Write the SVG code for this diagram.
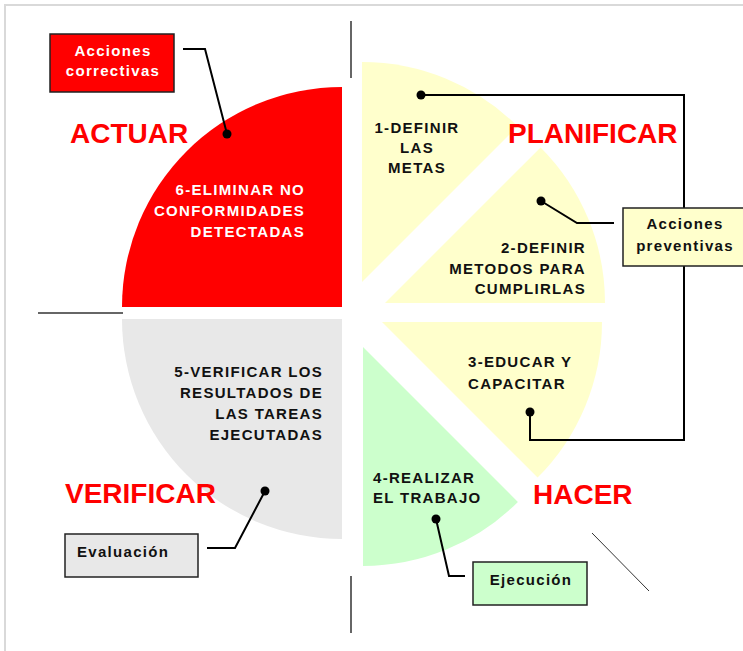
<svg xmlns="http://www.w3.org/2000/svg" width="743" height="651" viewBox="0 0 743 651">
<style>
.t{font-family:"Liberation Sans",Arial,sans-serif;font-weight:bold;font-size:15px;letter-spacing:1.3px;fill:#111}
.w{fill:#fff}
.big{font-family:"Liberation Sans",Arial,sans-serif;font-weight:bold;font-size:28px;fill:#ff0000}
.box{stroke:#222;stroke-width:1.5}
.con{fill:none;stroke:#000;stroke-width:2}
.dot{fill:#000}
.guide{stroke:#333;stroke-width:1.5}
</style>
<rect x="0" y="0" width="743" height="651" fill="#fff"/>
<rect x="5" y="5" width="760" height="680" fill="none" stroke="#d9d9d9" stroke-width="2"/>
<g id="guides">
<line class="guide" x1="351" y1="21" x2="351" y2="78"/>
<line class="guide" x1="351" y1="576" x2="351" y2="633"/>
<line class="guide" x1="38" y1="313" x2="123" y2="313"/>
<line stroke="#333" stroke-width="1" x1="592" y1="533" x2="649" y2="591"/>
</g>
<g id="actuar">
<path d="M342,307 L342,87 A220,220 0 0 0 122,307 Z" fill="#ff0000"/>
<text class="big" x="70" y="143">ACTUAR</text>
<text class="t w" text-anchor="end"><tspan x="305" y="195">6-ELIMINAR NO</tspan><tspan x="305" y="216">CONFORMIDADES</tspan><tspan x="305" y="237">DETECTADAS</tspan></text>
</g>
<g id="verificar">
<path d="M342,319 L122,319 A220,220 0 0 0 342,539 Z" fill="#e8e8e8"/>
<text class="big" x="65" y="503">VERIFICAR</text>
<text class="t" text-anchor="end"><tspan x="323" y="377">5-VERIFICAR LOS</tspan><tspan x="323" y="398">RESULTADOS DE</tspan><tspan x="323" y="419">LAS TAREAS</tspan><tspan x="323" y="440">EJECUTADAS</tspan></text>
</g>
<g id="paso1">
<path d="M362,282 L362,62 A220,220 0 0 1 517.6,126.4 Z" fill="#ffffcc"/>
<text class="t" text-anchor="middle"><tspan x="417" y="133">1-DEFINIR</tspan><tspan x="417" y="153">LAS</tspan><tspan x="417" y="173">METAS</tspan></text>
</g>
<g id="paso2">
<path d="M385,303 L605,303 A220,220 0 0 0 540.6,147.4 Z" fill="#ffffcc"/>
<text class="t" text-anchor="end"><tspan x="586" y="253">2-DEFINIR</tspan><tspan x="586" y="274">METODOS PARA</tspan><tspan x="586" y="294">CUMPLIRLAS</tspan></text>
</g>
<g id="paso3">
<path d="M382,322 L602,322 A220,220 0 0 1 537.6,477.6 Z" fill="#ffffcc"/>
<text class="t"><tspan x="468" y="367">3-EDUCAR Y</tspan><tspan x="468" y="389">CAPACITAR</tspan></text>
</g>
<g id="paso4">
<path d="M363,347 L517.9,501.9 A219,219 0 0 1 363,566 Z" fill="#ccffcc"/>
<text class="t"><tspan x="373" y="483">4-REALIZAR</tspan><tspan x="373" y="503">EL TRABAJO</tspan></text>
</g>
<g id="planificar-label">
<text class="big" x="508" y="143">PLANIFICAR</text>
</g>
<g id="hacer-label">
<text class="big" x="533" y="504">HACER</text>
</g>
<g id="connectors">
<path class="con" d="M183,49 L205,49 L227,134"/>
<circle class="dot" cx="227" cy="134" r="4.5"/>
<path class="con" d="M421,95 L684,95 L684,440 L530,440 L530,412"/>
<circle class="dot" cx="421" cy="95" r="4.5"/>
<circle class="dot" cx="530" cy="412" r="4.5"/>
<path class="con" d="M541,201 L577,223 L614,223"/>
<circle class="dot" cx="541" cy="201" r="4.5"/>
<path class="con" d="M265,491 L235,548 L207,548"/>
<circle class="dot" cx="265" cy="491" r="4.5"/>
<path class="con" d="M436,519 L449,576 L465,576"/>
<circle class="dot" cx="436" cy="519" r="4.5"/>
</g>
<g id="acciones-correctivas">
<rect class="box" x="50" y="34" width="124" height="58" fill="#ff0000"/>
<text class="t w" text-anchor="middle"><tspan x="113" y="56">Acciones</tspan><tspan x="113" y="76">correctivas</tspan></text>
</g>
<g id="acciones-preventivas">
<rect class="box" x="623" y="208" width="122" height="58" fill="#ffffcc"/>
<text class="t" text-anchor="middle"><tspan x="685" y="229">Acciones</tspan><tspan x="685" y="251">preventivas</tspan></text>
</g>
<g id="evaluacion">
<rect class="box" x="65" y="534" width="133" height="43" fill="#e8e8e8"/>
<text class="t" x="77" y="557">Evaluación</text>
</g>
<g id="ejecucion">
<rect class="box" x="473" y="562" width="114" height="43" fill="#ccffcc"/>
<text class="t" x="531" y="585" text-anchor="middle">Ejecución</text>
</g>
</svg>
